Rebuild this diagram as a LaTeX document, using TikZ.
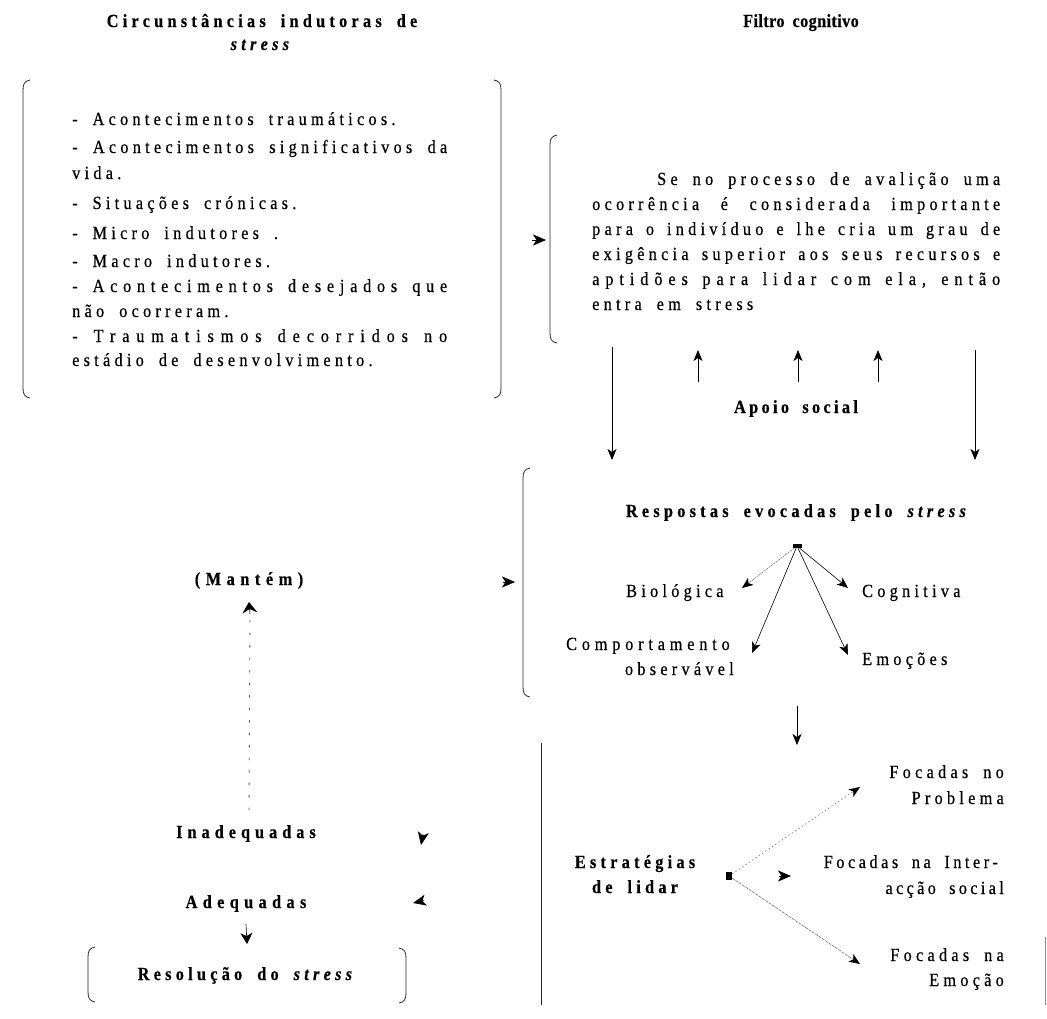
\documentclass[tikz,border=0pt]{standalone}
\usepackage{fontspec}
\setmainfont{Liberation Serif}[FakeStretch=0.88, FakeBold=0.5, WordSpace=1.8]
\usetikzlibrary{arrows.meta}

% letter spacing (tracking) helper and base font size
\newcommand\trk[1]{\addfontfeature{LetterSpace=#1}}
\newcommand\fs{\fontsize{18.5}{24}\selectfont}

% rounded bracket sides: x, top, bottom
\newcommand\brkL[3]{\draw[brk] (#1+7,#2) .. controls (#1+1.5,#2+1) and (#1,#2+4) .. (#1,#2+10) -- (#1,#3-10) .. controls (#1,#3-4) and (#1+1.5,#3-1) .. (#1+7,#3);}
\newcommand\brkR[3]{\draw[brk] (#1-7,#2) .. controls (#1-1.5,#2+1) and (#1,#2+4) .. (#1,#2+10) -- (#1,#3-10) .. controls (#1,#3-4) and (#1-1.5,#3-1) .. (#1-7,#3);}

\tikzset{
  body/.style={inner sep=0pt, anchor=base west, font=\fs\trk{23}},
  head/.style={inner sep=0pt, anchor=base, font=\fs\bfseries\trk{23}},
  frame/.style={inner sep=0pt, outer sep=0pt, draw=none},
  brk/.style={line width=0.8pt, black!85},
  link/.style={line width=0.6pt, -{Stealth[length=11pt,width=9pt,inset=3pt,color=black]}},
  bigtip/.style={line width=0.6pt, -{Stealth[length=13pt,width=11pt,inset=3.5pt,color=black]}},
  hub/.style={fill=black, draw=none, inner sep=0pt},
  faint/.style={black!60, line width=0.55pt},
}

\begin{document}
\begin{tikzpicture}[x=1pt,y=-1pt]
\useasboundingbox (0,0) rectangle (1047,1018);

% ---------- headings ----------
\node[head] (tCause)  at (262,27) {Circunstâncias indutoras de};
\node[head] (tCause2) at (262,50) {\textit{stress}};
\node[head, font=\fs\bfseries\trk{2}] (tFilter) at (801,27) {Filtro cognitivo};

% ---------- frames ----------
\node[frame, minimum width=478pt, minimum height=318pt] (causes) at (262,239) {};
\node[frame, minimum width=460pt, minimum height=208pt] (filter) at (780,239) {};
\node[frame, minimum width=487pt, minimum height=229pt] (resp)   at (766.5,582.5) {};
\node[frame, minimum width=318pt, minimum height=56pt]  (resol)  at (247,975) {};
\node[frame, minimum width=504pt, minimum height=262pt] (strat)  at (793,874) {};

\brkL{23}{80}{398}
\brkR{501}{80}{398}
\brkL{550}{135}{343}
\brkL{523}{468}{697}
\brkL{88}{947}{1002}
\brkR{406}{948}{1003}
\draw[brk] (strat.north west) -- (strat.south west);
\draw[line width=0.6pt, black!45] (1045,937) -- (1045,1005);

% ---------- stress-inducing circumstances ----------
\node[body] (c1)  at (72,125) {- Acontecimentos traumáticos.};
\node[body] (c2)  at (72,153) {\makebox[375pt][s]{- Acontecimentos significativos da}};
\node[body] (c3)  at (72,179) {vida.};
\node[body] (c4)  at (72,209) {- Situações crónicas.};
\node[body] (c5)  at (72,239) {- Micro indutores .};
\node[body] (c6)  at (72,267) {- Macro indutores.};
\node[body, font=\fs\trk{31}] (c7)  at (72,292) {\makebox[375pt][s]{- Acontecimentos desejados que}};
\node[body] (c8)  at (72,317) {não ocorreram.};
\node[body, font=\fs\trk{37}] (c9)  at (72,342) {\makebox[375pt][s]{- Traumatismos decorridos no}};
\node[body] (c10) at (72,366) {estádio de desenvolvimento.};

% ---------- cognitive filter ----------
\node[body] (f1) at (657,185) {\makebox[343pt][s]{Se no processo de avalição uma}};
\node[body] (f2) at (592,210) {\makebox[408pt][s]{ocorrência é considerada importante}};
\node[body] (f3) at (592,235) {\makebox[408pt][s]{para o indivíduo e lhe cria um grau de}};
\node[body] (f4) at (592,260) {\makebox[408pt][s]{exigência superior aos seus recursos e}};
\node[body, font=\fs\trk{32}] (f5) at (592,285) {\makebox[408pt][s]{aptidões para lidar com ela, então}};
\node[body] (f6) at (592,310) {entra em stress};

\coordinate (cf) at (532,240);
\draw[bigtip, shorten >=4pt] (cf) -- (cf -| filter.west);

% ---------- social support ----------
\node[head, font=\fs\bfseries\trk{18}] (apoio) at (796,413) {Apoio social};
\coordinate (a1) at (698,382);
\coordinate (a2) at (798,382);
\coordinate (a3) at (878,382);
\foreach \a in {a1,a2,a3}
  \draw[link, shorten >=7pt] (\a) -- (\a |- filter.south);

\coordinate (dL) at (612,0);
\coordinate (dR) at (975,0);
\draw[link, shorten <=4pt, shorten >=8pt] (dL |- filter.south) -- (dL |- resp.north);
\draw[link, shorten <=7pt, shorten >=8pt] (dR |- filter.south) -- (dR |- resp.north);

% ---------- responses ----------
\coordinate (cr) at (503,582);
\draw[bigtip, shorten >=8pt] (cr) -- (cr -| resp.west);

\node[head] (tResp) at (798,517) {Respostas evocadas pelo \textit{stress}};
\node[hub, minimum width=9pt, minimum height=4pt] (hub1) at (797,546) {};

\node[body] (bio)   at (626,597) {Biológica};
\node[body] (cog)   at (862,597) {Cognitiva};
\node[body, font=\fs\trk{26}] (comp1) at (566,650) {Comportamento};
\node[body, anchor=base east] (comp2) at (734,675) {observável};
\node[body] (emo)   at (862,665) {Emoções};

\coordinate (tBio)  at (742,588);
\coordinate (tCog)  at (848,588);
\coordinate (tComp) at (752,653);
\coordinate (tEmo)  at (848,655);
\draw[link, faint, dash pattern=on 2pt off 1pt] (hub1) -- (tBio);
\draw[link] (hub1) -- (tCog);
\draw[link] (hub1) -- (tComp);
\draw[link] (hub1) -- (tEmo);

% ---------- coping strategies ----------
\coordinate (rs) at (797,706);
\coordinate (rsTip) at (797,745);
\draw[link] (rs) -- (rsTip);

\node[head] (est1) at (635,868) {Estratégias};
\node[head] (est2) at (635,893) {de lidar};
\node[hub, minimum width=6pt, minimum height=8pt] (hub2) at (729,876) {};

\node[body, anchor=base east] (p1) at (1004,778) {Focadas no};
\node[body, anchor=base east] (p2) at (1004,804) {Problema};
\node[body, anchor=base east, font=\fs\trk{19}] (i1) at (998,868) {Focadas na Inter-};
\node[body, anchor=base east, font=\fs\trk{18}] (i2) at (1004,894) {acção social};
\node[body, anchor=base east] (e1) at (1004,961) {Focadas na};
\node[body, anchor=base east] (e2) at (1004,986) {Emoção};

\coordinate (tProb) at (860,787);
\coordinate (tEmoc) at (860,964);
\draw[link, faint, dash pattern=on 1.5pt off 2.5pt] (hub2) -- (tProb);
\draw[link, faint, dash pattern=on 3pt off 1pt] (hub2) -- (tEmoc);
\coordinate (si) at (779,876);
\draw[bigtip] (si) -- ++(12,0);

% ---------- outcomes ----------
\node[head, font=\fs\bfseries\trk{30}] (mant) at (249,585) {(Mantém)};
\node[head, font=\fs\bfseries\trk{27}] (inad) at (246,838) {Inadequadas};
\node[head, font=\fs\bfseries\trk{29}] (adeq) at (246,908) {Adequadas};
\node[head] (res) at (247,980) {Resolução do \textit{stress}};

\coordinate (mStart) at (249,810);
\draw[black!65, line width=0.9pt, dash pattern=on 2.5pt off 10pt] (mStart) -- (250,618);
\draw[line width=0.6pt, -{Stealth[length=11pt,width=15pt,inset=4pt]}] (250,614) -- (mant.south |- 250,602);

\coordinate (ia) at (423,834);
\draw[bigtip] (ia) -- (421,845);
\coordinate (aa) at (424,900.5);
\draw[bigtip] (aa) -- (413,903);

\draw[line width=0.6pt, -{Stealth[length=11pt,width=12pt,inset=3pt]}] (adeq.south |- 0,924) -- (resol.north |- 0,944);
\end{tikzpicture}
\end{document}
